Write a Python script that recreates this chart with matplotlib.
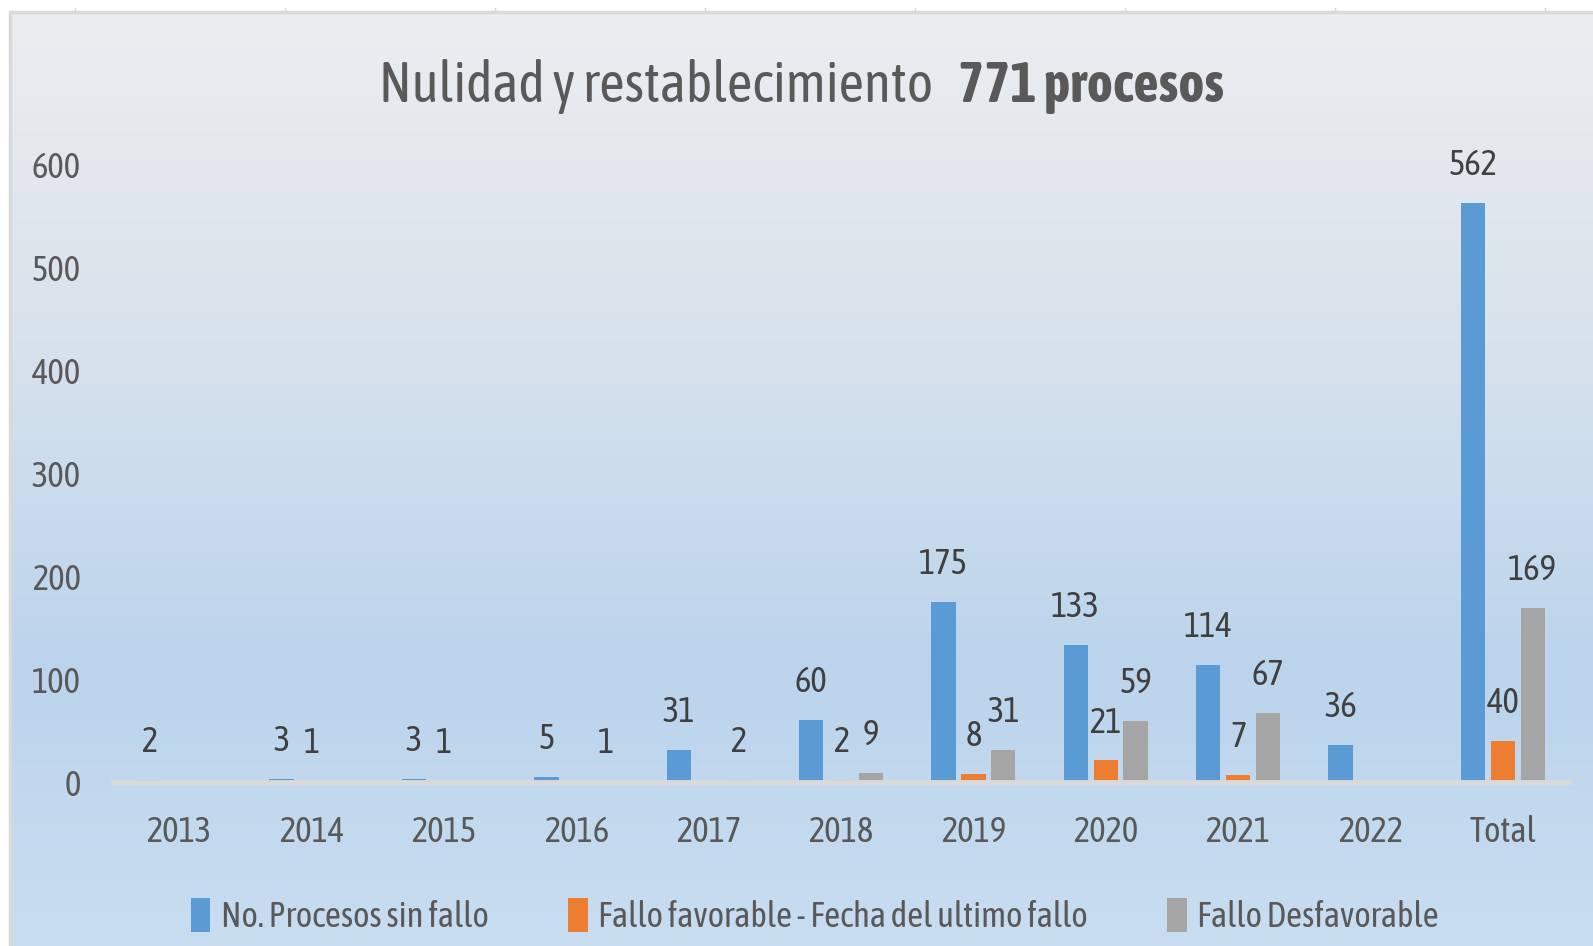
import numpy as np
import matplotlib.pyplot as plt
from matplotlib.colors import LinearSegmentedColormap
from matplotlib.lines import Line2D
from matplotlib.patches import Rectangle

plt.rcParams['font.family'] = ['Asap Condensed', 'Liberation Sans Narrow', 'DejaVu Sans']

years = ['2013', '2014', '2015', '2016', '2017', '2018', '2019', '2020', '2021', '2022', 'Total']
sin_fallo = [2, 3, 3, 5, 31, 60, 175, 133, 114, 36, 562]
favorable = [0, 1, 1, 0, 0, 2, 8, 21, 7, 0, 40]
desfavorable = [0, 0, 0, 1, 2, 9, 31, 59, 67, 0, 169]
series_names = ['No. Procesos sin fallo', 'Fallo favorable - Fecha del ultimo fallo', 'Fallo Desfavorable']
colors = ['#5B9BD5', '#ED7D31', '#A5A5A5']

W, H = 1593, 946
fig = plt.figure(figsize=(W / 100, H / 100), dpi=100)
fig.patch.set_facecolor('white')

# gradient panel behind the chart
bg = fig.add_axes([11 / W, 0, 1 - 11 / W, 1 - 13 / H], zorder=-5)
grad_cmap = LinearSegmentedColormap.from_list('bg', [
    (0.0, '#ECEDEF'), (0.35, '#D8E2EC'), (0.7, '#BBD4EC'), (1.0, '#C9DDF1')])
bg.imshow(np.linspace(0, 1, 256).reshape(-1, 1), aspect='auto', cmap=grad_cmap,
          extent=[0, 1, 0, 1], origin='upper')
bg.set_axis_off()
fig.add_artist(Rectangle((10 / W, -0.01), 1.1, 1 - 12 / H + 0.01, transform=fig.transFigure,
                         fill=False, edgecolor='#D9D9D9', lw=2.5, zorder=-4))
for xp in [75, 285, 495, 705, 915, 1125, 1335, 1545]:
    fig.add_artist(Line2D([xp / W, xp / W], [1 - 12 / H, 1 - 8 / H], transform=fig.transFigure,
                          color='#D9D9D9', lw=1))

ax = fig.add_axes([113 / W, 1 - 782 / H, (1569 - 113) / W, (782 - 164) / H])
ax.set_facecolor('none')

x = np.arange(len(years))
w = 0.184
off = 0.226
for i, (vals, c) in enumerate(zip([sin_fallo, favorable, desfavorable], colors)):
    pos = x + (i - 1) * off
    ax.bar(pos, vals, width=w, color=c, label=series_names[i], zorder=2)
    for px, v in zip(pos, vals):
        if v:
            ax.annotate(str(v), (px, v), xytext=(0, 15), textcoords='offset points',
                        ha='center', va='bottom', fontsize=25, color='#404040')

ax.set_xlim(-0.5, len(years) - 0.5)
ax.set_ylim(0, 600)
ax.set_yticks(range(0, 601, 100))
ax.set_xticks(x)
ax.set_xticklabels(years)
ax.tick_params(axis='both', length=0, labelsize=25, labelcolor='#595959')
ax.tick_params(axis='y', pad=23)
ax.tick_params(axis='x', pad=24)
for s in ['top', 'right', 'left']:
    ax.spines[s].set_visible(False)
ax.spines['bottom'].set_color('#D9D9D9')
ax.spines['bottom'].set_linewidth(3.5)
ax.spines['bottom'].set_zorder(4)

fig.text(933 / W, 1 - 102 / H, 'Nulidad y restablecimiento', ha='right', va='baseline',
         fontsize=40, color='#595959')
fig.text(958 / W, 1 - 102 / H, '771 procesos', ha='left', va='baseline',
         fontsize=40, color='#595959', fontweight='bold')

handles, labels = ax.get_legend_handles_labels()
fig.legend(handles, labels, loc='center', bbox_to_anchor=(815 / W, 1 - 916 / H), ncol=3,
           frameon=False, fontsize=25, labelcolor='#595959', handlelength=0.55,
           handleheight=1.1, handletextpad=0.3, columnspacing=2.3)

fig.savefig('out.png', dpi=100)
